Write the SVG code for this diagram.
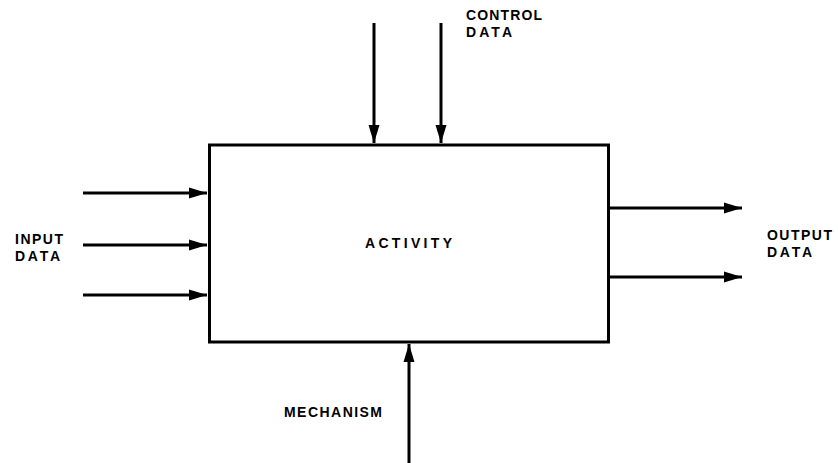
<svg xmlns="http://www.w3.org/2000/svg" width="838" height="463" viewBox="0 0 838 463">
<style>
.lbl{font-family:"Liberation Sans",Arial,sans-serif;font-weight:bold;font-size:14px;fill:#000}
.ln{stroke:#000;stroke-width:3;fill:none}
</style>
<defs>
<marker id="ah" markerUnits="userSpaceOnUse" markerWidth="20" markerHeight="12" refX="18" refY="6" orient="auto">
<path d="M0,0.5 L18,6 L0,11.5 Z" fill="#000"/>
</marker>
</defs>
<rect width="838" height="463" fill="#fff"/>
<g id="activity">
<rect x="209.5" y="145" width="399" height="197" fill="#fff" stroke="#000" stroke-width="3"/>
<text class="lbl" x="365" y="248" textLength="87" lengthAdjust="spacing">ACTIVITY</text>
</g>
<g id="connectors">
<line class="ln" x1="374" y1="23" x2="374" y2="143" marker-end="url(#ah)"/>
<line class="ln" x1="441" y1="23" x2="441" y2="143" marker-end="url(#ah)"/>
<line class="ln" x1="83" y1="193" x2="207" y2="193" marker-end="url(#ah)"/>
<line class="ln" x1="83" y1="245" x2="207" y2="245" marker-end="url(#ah)"/>
<line class="ln" x1="83" y1="295" x2="207" y2="295" marker-end="url(#ah)"/>
<line class="ln" x1="609" y1="208" x2="742" y2="208" marker-end="url(#ah)"/>
<line class="ln" x1="609" y1="277" x2="742" y2="277" marker-end="url(#ah)"/>
<line class="ln" x1="409" y1="463" x2="409" y2="344" marker-end="url(#ah)"/>
</g>
<g id="control-label">
<text class="lbl" x="466" y="20" textLength="76" lengthAdjust="spacing">CONTROL</text>
<text class="lbl" x="466" y="37" textLength="46" lengthAdjust="spacing">DATA</text>
</g>
<g id="input-label">
<text class="lbl" x="15" y="243.5" textLength="48" lengthAdjust="spacing">INPUT</text>
<text class="lbl" x="15" y="261" textLength="45" lengthAdjust="spacing">DATA</text>
</g>
<g id="output-label">
<text class="lbl" x="767" y="240" textLength="65" lengthAdjust="spacing">OUTPUT</text>
<text class="lbl" x="767" y="256.5" textLength="45" lengthAdjust="spacing">DATA</text>
</g>
<g id="mechanism-label">
<text class="lbl" x="284" y="417" textLength="98" lengthAdjust="spacing">MECHANISM</text>
</g>
</svg>
